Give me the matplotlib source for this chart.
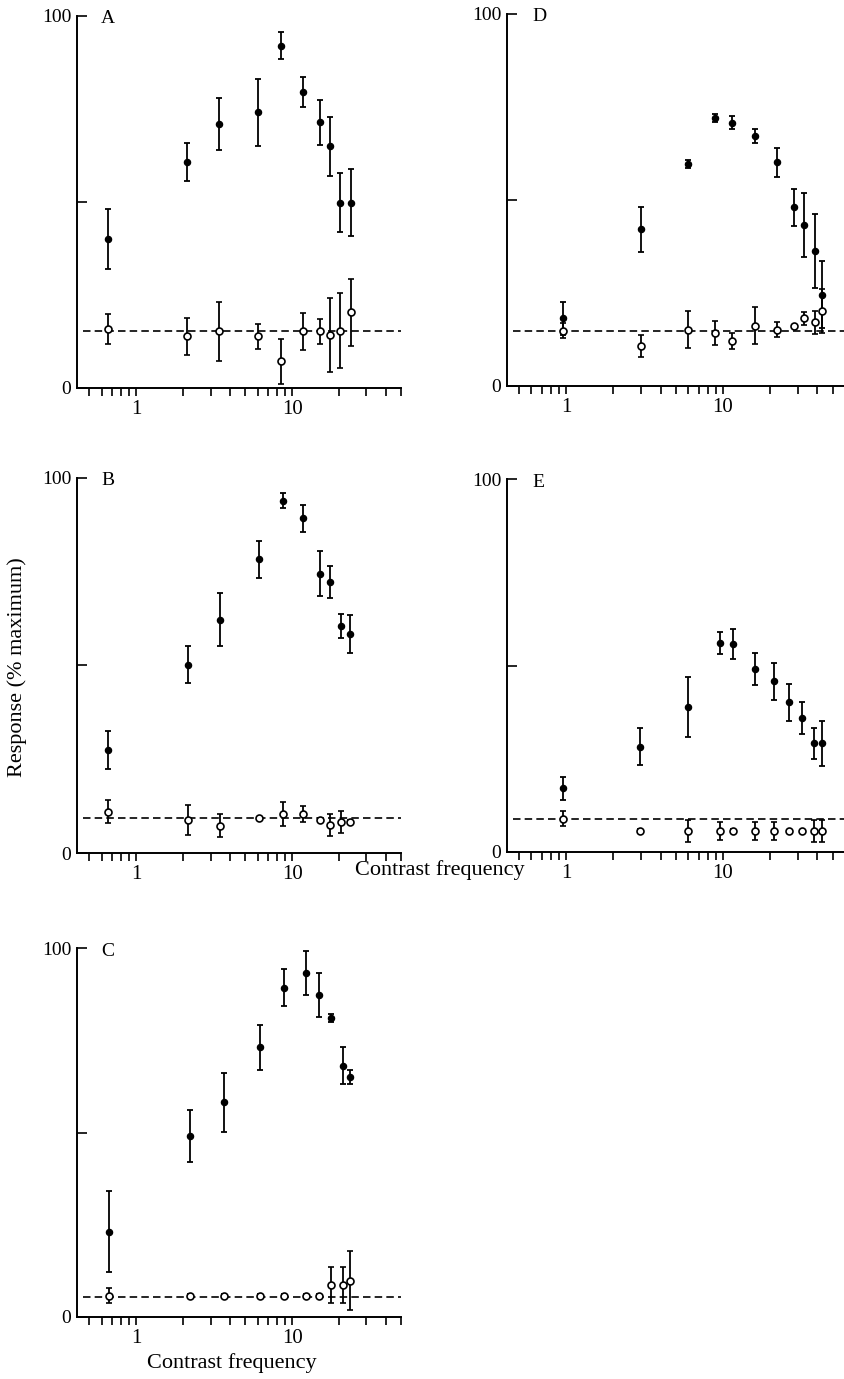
import matplotlib.pyplot as plt
import matplotlib.ticker as ticker
import numpy as np

plt.rcParams['font.family'] = ['Liberation Serif', 'DejaVu Serif']

# contrast frequencies per panel
freq_a = [0.66, 2.1, 3.4, 6.0, 8.5, 11.7, 15.0, 17.4, 20.4, 24.0]
freq_b = [0.66, 2.15, 3.45, 6.1, 8.7, 11.8, 15.1, 17.4, 20.7, 23.4]
freq_c = [0.67, 2.2, 3.65, 6.25, 8.9, 12.2, 14.8, 17.8, 21.2, 23.4]
freq_d = [0.96, 2.98, 5.94, 8.9, 11.4, 15.9, 22.2, 28.5, 32.7, 38.9, 43.1]
freq_e = [0.95, 2.94, 5.94, 9.57, 11.5, 15.9, 21.1, 26.2, 31.9, 38.1, 42.5]

# filled circles: response, error
resp_a = [40.0, 60.7, 70.9, 74.0, 91.9, 79.6, 71.4, 64.9, 49.8, 49.8]
err_a = [8.0, 5.0, 7.0, 9.0, 3.6, 4.0, 6.0, 8.0, 8.0, 9.0]
resp_b = [27.4, 50.2, 62.2, 78.3, 93.9, 89.2, 74.4, 72.2, 60.4, 58.4]
err_b = [5.0, 5.0, 7.0, 4.9, 2.0, 3.6, 6.0, 4.2, 3.2, 5.0]
resp_c = [23.1, 49.1, 58.2, 73.1, 89.3, 93.4, 87.3, 81.0, 68.1, 65.2]
err_c = [11.0, 7.0, 8.0, 6.0, 5.0, 6.0, 6.0, 1.1, 5.0, 1.9]
resp_d = [18.2, 42.1, 59.7, 72.1, 70.8, 67.2, 60.1, 48.0, 43.3, 36.3, 24.5]
err_d = [4.5, 6.0, 1.0, 1.0, 1.7, 1.8, 4.0, 5.0, 8.7, 10.0, 9.0]
resp_e = [17.0, 28.2, 38.9, 56.0, 55.8, 49.0, 45.8, 40.1, 36.0, 29.1, 29.1]
err_e = [3.0, 5.0, 8.0, 3.0, 4.0, 4.3, 5.0, 5.0, 4.3, 4.2, 6.0]

# open circles: control response, error
ctrl_a = [15.9, 13.9, 15.2, 13.9, 7.2, 15.2, 15.2, 14.3, 15.4, 20.4]
cerr_a = [4.0, 5.0, 8.0, 3.3, 6.0, 5.0, 3.3, 10.0, 10.0, 9.0]
ctrl_b = [11.0, 8.8, 7.3, 9.2, 10.5, 10.4, 8.9, 7.5, 8.3, 8.3]
cerr_b = [3.0, 4.0, 3.0, 0.5, 3.2, 2.2, 0.5, 3.0, 3.0, 0.5]
ctrl_c = [5.7, 5.7, 5.7, 5.7, 5.7, 5.7, 5.7, 8.6, 8.6, 9.7]
cerr_c = [2.0, 0.4, 0.4, 0.4, 0.4, 0.4, 0.4, 5.0, 5.0, 8.0]
ctrl_d = [14.9, 10.8, 15.1, 14.2, 12.1, 16.2, 15.1, 16.2, 18.2, 17.1, 20.2]
cerr_d = [2.0, 3.0, 5.0, 3.3, 2.2, 5.0, 2.0, 0.0, 1.8, 3.0, 6.0]
ctrl_e = [8.8, 5.6, 5.6, 5.6, 5.6, 5.6, 5.6, 5.6, 5.6, 5.6, 5.6]
cerr_e = [2.0, 0.5, 3.0, 2.5, 0.5, 2.5, 2.5, 0.0, 0.0, 3.0, 3.0]

# spontaneous level (dashed line)
base = {'A': 15.2, 'B': 9.3, 'C': 5.4, 'D': 14.9, 'E': 8.7}

W, H = 845, 1379
fig = plt.figure(figsize=(W / 100, H / 100), dpi=100)


def panel(rect, letter, freq, resp, err, ctrl, cerr, xlim):
    x0, y_top, x1, y_bot = rect
    ax = fig.add_axes([x0 / W, 1 - y_bot / H, (x1 - x0) / W, (y_bot - y_top) / H])
    ax.set_xscale('log')
    ax.set_xlim(*xlim)
    ax.set_ylim(0, 100)
    for s in ['top', 'right']:
        ax.spines[s].set_visible(False)
    for s in ['left', 'bottom']:
        ax.spines[s].set_linewidth(1.4)

    ax.axhline(base[letter], xmin=0.02, xmax=1.0, color='black', lw=1.2,
               ls=(0, (4.5, 2.5)), zorder=1)

    ax.errorbar(freq, resp, yerr=err, fmt='o', color='black', ms=4.4,
                elinewidth=1.3, capsize=2.0, capthick=1.3, zorder=3)
    ax.errorbar(freq, ctrl, yerr=cerr, fmt='o', color='black', mfc='white',
                mec='black', mew=1.2, ms=5.0, elinewidth=1.3, capsize=2.0,
                capthick=1.3, zorder=3)

    ax.xaxis.set_major_locator(ticker.FixedLocator([1, 10]))
    ax.xaxis.set_minor_locator(ticker.LogLocator(base=10, subs=np.arange(2, 10)))
    ax.xaxis.set_major_formatter(ticker.FixedFormatter(['1', '10']))
    ax.xaxis.set_minor_formatter(ticker.NullFormatter())
    ax.tick_params(axis='x', which='both', direction='out', length=5.5,
                   width=1.2, labelsize=15, pad=3)
    ax.set_yticks([0, 50, 100])
    ax.set_yticklabels(['0', '', '100'])
    ax.tick_params(axis='y', direction='in', length=7, width=1.2,
                   labelsize=14, pad=4)
    ax.text(0.075, 0.992, letter, transform=ax.transAxes, fontsize=14,
            ha='left', va='center')
    return ax


xl_left = (0.414, 50)
xl_right = (0.417, 60)
panel((76.7, 15.7, 401, 388), 'A', freq_a, resp_a, err_a, ctrl_a, cerr_a, xl_left)
panel((76.7, 477.7, 401, 853), 'B', freq_b, resp_b, err_b, ctrl_b, cerr_b, xl_left)
panel((76.7, 948.3, 401, 1316.7), 'C', freq_c, resp_c, err_c, ctrl_c, cerr_c, xl_left)
panel((506.7, 14, 845, 386), 'D', freq_d, resp_d, err_d, ctrl_d, cerr_d, xl_right)
panel((506.7, 479.3, 845, 851.7), 'E', freq_e, resp_e, err_e, ctrl_e, cerr_e, xl_right)

fig.text(17 / W, 1 - 667 / H, 'Response (% maximum)', rotation=90,
         ha='center', va='center', fontsize=16)
fig.text(440 / W, 1 - 870 / H, 'Contrast frequency', ha='center',
         va='center', fontsize=16)
fig.text(232 / W, 1 - 1363 / H, 'Contrast frequency', ha='center',
         va='center', fontsize=16)

fig.savefig('out.png', dpi=100)
